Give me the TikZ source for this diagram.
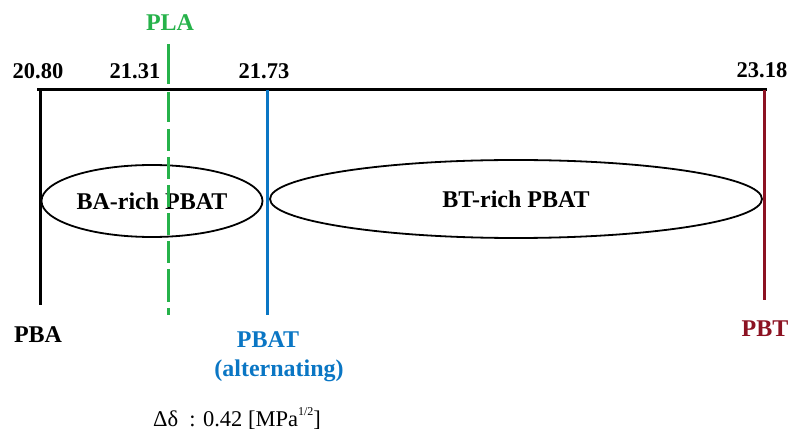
\documentclass[tikz,border=0pt]{standalone}
\usepackage{fontspec}
\setmainfont{Liberation Serif}
\usetikzlibrary{shapes.geometric}
\definecolor{plagreen}{RGB}{38,178,74}
\definecolor{pbatblue}{RGB}{10,118,196}
\definecolor{pbtred}{RGB}{140,18,34}
\begin{document}
\begin{tikzpicture}[x=1pt,y=-1pt,
  num/.style={anchor=base,inner sep=0pt,font=\fontsize{22.5}{26}\selectfont\bfseries},
  lbl/.style={anchor=base,inner sep=0pt,font=\fontsize{24}{28}\selectfont\bfseries},
  axis/.style={line width=3pt},
  marker/.style={line width=3pt},
  region/.style={ellipse,draw,line width=1.8pt,inner sep=0pt,
    font=\fontsize{24}{28}\selectfont\bfseries}]
\useasboundingbox (0,0) rectangle (790,430);

% scale ends and marker ends
\coordinate (a0) at (38.5,90);
\coordinate (a1) at (765,90);
\coordinate (pbaTop) at (40,90);
\coordinate (pbaBot) at (40,305);
\coordinate (plaTop) at (168,44);
\coordinate (plaBot) at (168,315);
\coordinate (altTop) at (267,90);
\coordinate (altBot) at (267,315);
\coordinate (pbtTop) at (764,90);
\coordinate (pbtBot) at (764,300);

% solubility scale
\draw[axis,line cap=rect] (a0) -- (a1);
\draw[marker] (pbaTop) -- (pbaBot);
\draw[marker,pbatblue] (altTop) -- (altBot);
\draw[marker,pbtred] (pbtTop) -- (pbtBot);

% composition regions
\node[region,minimum width=221pt,minimum height=72pt] (ba) at (152,201) {BA-rich PBAT};
\node[region,minimum width=492pt,minimum height=78pt] (bt) at (516,199) {BT-rich PBAT};

\draw[marker,plagreen,dash pattern=on 40pt off 8pt on 30pt off 7pt on 22pt off 6pt on 22pt off 6pt on 22pt off 6pt on 22pt off 6pt on 22pt off 6pt on 33pt off 6pt] (plaTop) -- (plaBot);

% values on the scale
\node[num] (v1) at (38,79) {20.80};
\node[num] (v2) at (135,79) {21.31};
\node[num] (v3) at (264,79) {21.73};
\node[num] (v4) at (762,78) {23.18};

% polymer labels
\node[lbl,text=plagreen] (pla) at (170,31) {PLA};
\node[lbl] (pba) at (38,342) {PBA};
\node[lbl,text=pbatblue] (pbat) at (268,348) {PBAT};
\node[lbl,text=pbatblue] (alt) at (279,377) {(alternating)};
\node[lbl,text=pbtred] (pbt) at (765,337) {PBT};

\node[anchor=base,inner sep=0pt,font=\fontsize{22.5}{26}\selectfont] (delta) at (237,426)
  {Δδ\ \ : 0.42 [MPa\raisebox{0.45em}{\fontsize{12}{14}\selectfont 1/2}]};
\end{tikzpicture}
\end{document}
